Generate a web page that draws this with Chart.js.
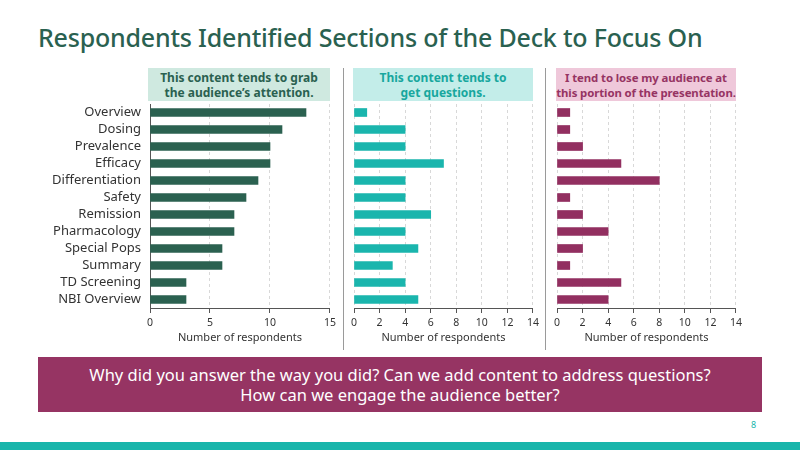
<!DOCTYPE html>
<html>
<head>
<meta charset="utf-8">
<script src="https://cdn.jsdelivr.net/npm/chart.js@4/dist/chart.umd.min.js"></script>
<style>
  html, body { margin: 0; padding: 0; background: #fff; }
  body { width: 800px; height: 450px; position: relative; overflow: hidden; font-family: "Noto Sans", sans-serif; }
  .title { position: absolute; left: 38px; top: 20px; font-size: 25px; font-weight: 500; color: #2a6150; white-space: nowrap; letter-spacing: -0.2px; }
  .head { position: absolute; top: 68px; height: 33px; font-size: 12px; font-weight: 700; line-height: 15px; text-align: center; display: flex; align-items: center; justify-content: center; white-space: nowrap; }
  .sep { position: absolute; top: 68px; width: 1px; height: 282px; background: #9a9a9a; }
  .box { position: absolute; }
  .banner { position: absolute; left: 38px; top: 357px; width: 724px; height: 55px; background: #963463; color: #fff; font-size: 16.5px; line-height: 20px; text-align: center; display: flex; align-items: center; justify-content: center; }
  .pnum { position: absolute; left: 751px; top: 418px; font-size: 9px; color: #19b5ab; }
  .band { position: absolute; left: 0; top: 442px; width: 800px; height: 8px; background: #19b5ab; }
</style>
</head>
<body>
<div class="title">Respondents Identified Sections of the Deck to Focus On</div>

<div class="head" style="left:148px;width:182px;background:#cfe9e0;color:#2a6150;">This content tends to grab<br>the audience’s attention.</div>
<div class="head" style="left:353px;width:180px;background:#c3ede9;color:#17a79e;">This content tends to<br>get questions.</div>
<div class="head" style="left:556px;width:180px;background:#efc8da;color:#963463;font-size:11.4px;letter-spacing:-0.1px;">I tend to lose my audience at<br>this portion of the presentation.</div>

<div class="sep" style="left:343px;"></div>
<div class="sep" style="left:545px;"></div>

<div class="box" style="left:0;top:100px;width:340px;height:250px;"><canvas id="attentionChart"></canvas></div>
<div class="box" style="left:343px;top:100px;width:200px;height:250px;"><canvas id="questionsChart"></canvas></div>
<div class="box" style="left:546px;top:100px;width:200px;height:250px;"><canvas id="loseChart"></canvas></div>

<div class="banner">Why did you answer the way you did? Can we add content to address questions?<br>How can we engage the audience better?</div>
<div class="pnum">8</div>
<div class="band"></div>

<script>
const sections = ['Overview', 'Dosing', 'Prevalence', 'Efficacy', 'Differentiation', 'Safety',
    'Remission', 'Pharmacology', 'Special Pops', 'Summary', 'TD Screening', 'NBI Overview'];
const attentionCounts = [13, 11, 10, 10, 9, 8, 7, 7, 6, 6, 3, 3];
const questionCounts = [1, 4, 4, 7, 4, 4, 6, 4, 5, 3, 4, 5];
const loseCounts = [1, 1, 2, 5, 8, 1, 2, 4, 2, 1, 5, 4];
const attentionTicks = [0, 5, 10, 15];
const countTicks = [0, 2, 4, 6, 8, 10, 12, 14];

Chart.defaults.font.family = '"Noto Sans", sans-serif';
Chart.defaults.color = '#333';

function makeChart(id, values, color, tickValues, leftWidth, showLabels) {
    const ctx = document.getElementById(id).getContext('2d');
    return new Chart(ctx, {
        type: 'bar',
        data: {
            labels: sections,
            datasets: [{
                data: values,
                backgroundColor: color,
                borderWidth: 0,
                barThickness: 8,
            }]
        },
        options: {
            indexAxis: 'y',
            responsive: true,
            maintainAspectRatio: false,
            animation: false,
            layout: { padding: { top: 4, right: 10, left: 0, bottom: 0 } },
            plugins: { legend: { display: false }, tooltip: { enabled: false } },
            scales: {
                x: {
                    min: tickValues[0],
                    max: tickValues[tickValues.length - 1],
                    afterBuildTicks: (scale) => { scale.ticks = tickValues.map(v => ({ value: v })); },
                    ticks: { font: { size: 10.5 }, color: '#333', padding: 4 },
                    grid: {
                        color: '#d8d8d8',
                        tickColor: '#555',
                        tickLength: 5,
                        tickBorderDash: [],
                    },
                    border: { display: true, color: '#555', width: 1, dash: [3, 3] },
                    title: { display: true, text: 'Number of respondents', font: { size: 11 }, color: '#333', padding: { top: 0, bottom: 6 } },
                    afterFit: (scale) => { scale.height = 42; }
                },
                y: {
                    ticks: { display: showLabels, autoSkip: false, font: { size: 13 }, color: '#333', padding: 9 },
                    grid: { display: false, drawTicks: false },
                    border: { display: showLabels, color: '#555', width: 1 },
                    afterFit: (scale) => {
                        scale.width = leftWidth;
                        scale.paddingTop = 0;
                        scale.paddingBottom = 0;
                    }
                }
            }
        }
    });
}

makeChart('attentionChart', attentionCounts, '#2b6150', attentionTicks, 150, true);
makeChart('questionsChart', questionCounts, '#1ab5ad', countTicks, 11, false);
makeChart('loseChart', loseCounts, '#922f60', countTicks, 11, false);
</script>
</body>
</html>
